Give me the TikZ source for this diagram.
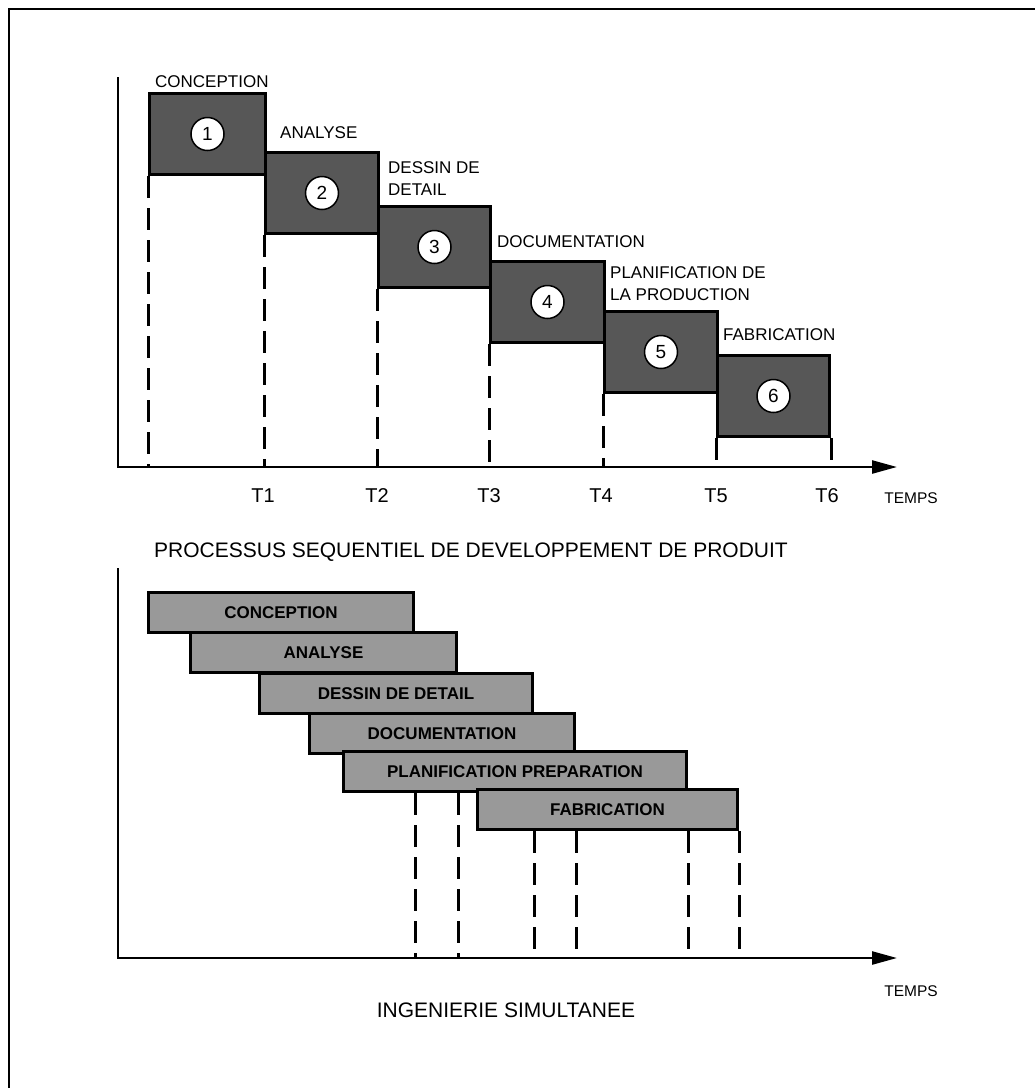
\documentclass[tikz,border=0pt]{standalone}
\usepackage{fontspec}
\setmainfont{Liberation Sans}
\usetikzlibrary{arrows.meta}
\begin{document}
\begin{tikzpicture}[x=1pt,y=-1pt,
  axisline/.style={line width=2.5pt,-{Triangle[length=25pt,width=13pt]}},
  seqbox/.style={draw,line width=3pt,fill=black!66,inner sep=0pt,anchor=north west,minimum height=81pt},
  numc/.style={circle,draw,line width=1.5pt,fill=white,minimum size=33pt,inner sep=0pt,font=\fontsize{19}{19}\selectfont},
  lbl/.style={anchor=north west,inner sep=0pt,align=left,font=\fontsize{17}{22}\selectfont},
  tlab/.style={anchor=base,inner sep=0pt,font=\fontsize{20}{20}\selectfont},
  temps/.style={anchor=base,inner sep=0pt,font=\fontsize{15.5}{15.5}\selectfont},
  caption/.style={anchor=base,inner sep=0pt,font=\fontsize{21}{21}\selectfont},
  guide/.style={line width=3pt,dash pattern=on 22pt off 10pt},
  bar/.style={draw,line width=3pt,fill=black!40,inner sep=0pt,anchor=north west,minimum height=40pt,font=\bfseries\fontsize{17}{17}\selectfont},
]
\useasboundingbox (0,0) rectangle (1035,1088);
% frame
\draw[line width=2pt] (9,1088) -- (9,9) -- (1035,9);

% ---------------- top chart ----------------
\coordinate (ytop1) at (118,77);
\coordinate (o1) at (118,467);
\coordinate (end1) at (897,467);
\draw[axisline] (ytop1) -- (o1) -- (end1);

\node[seqbox,minimum width=116pt] (s1) at (148,92) {};
\node[seqbox,minimum width=113pt] (s2) at (264,151) {};
\node[seqbox,minimum width=112pt] (s3) at (377,205) {};
\node[seqbox,minimum width=114pt] (s4) at (489,260) {};
\node[seqbox,minimum width=113pt] (s5) at (603,310) {};
\node[seqbox,minimum width=112pt] (s6) at (716,354) {};

\foreach \i in {1,...,6} {\node[numc] (c\i) at (s\i.center) {\i};}

\draw[guide] (s1.south west) -- (s1.south west |- o1);
\draw[guide] (s2.south west) -- (s2.south west |- o1);
\draw[guide] (s3.south west) -- (s3.south west |- o1);
\draw[guide] (s4.south west) -- (s4.south west |- o1);
\draw[guide] (s5.south west) -- (s5.south west |- o1);
\draw[guide] (s6.south west) -- (s6.south west |- o1);
\draw[guide] (s6.south east) -- (s6.south east |- o1);

\node[lbl] (l1) at (155,75) {CONCEPTION};
\node[lbl] (l2) at (280,126) {ANALYSE};
\node[lbl] (l3) at (388,161) {DESSIN DE\\DETAIL};
\node[lbl] (l4) at (497,235) {DOCUMENTATION};
\node[lbl] (l5) at (610,266) {PLANIFICATION DE\\LA PRODUCTION};
\node[lbl] (l6) at (723,328) {FABRICATION};

\node[tlab] (t1) at (263,502) {T1};
\node[tlab] (t2) at (377,502) {T2};
\node[tlab] (t3) at (489,502) {T3};
\node[tlab] (t4) at (601,502) {T4};
\node[tlab] (t5) at (716,502) {T5};
\node[tlab] (t6) at (827,502) {T6};
\node[temps] (tp1) at (911,503) {TEMPS};

\node[caption] (cap1) at (471,557) {PROCESSUS SEQUENTIEL DE DEVELOPPEMENT DE PRODUIT};

% ---------------- bottom chart ----------------
\coordinate (ytop2) at (118,568);
\coordinate (o2) at (118,958);
\coordinate (end2) at (897,958);
\draw[axisline] (ytop2) -- (o2) -- (end2);

\node[bar,minimum width=265pt] (p1) at (147,591) {CONCEPTION};
\node[bar,minimum width=266pt] (p2) at (189,631) {ANALYSE};
\node[bar,minimum width=273pt] (p3) at (258,672) {DESSIN DE DETAIL};
\node[bar,minimum width=265pt] (p4) at (308,712) {DOCUMENTATION};
\node[bar,minimum width=343pt] (p5) at (342,750) {PLANIFICATION PREPARATION};
\node[bar,minimum width=260pt] (p6) at (476,788) {FABRICATION};

\draw[guide] (p1.south east |- p5.south) -- (p1.south east |- o2);
\draw[guide] (p2.south east |- p5.south) -- (p2.south east |- o2);
\draw[guide] (p3.south east |- p6.south) -- (p3.south east |- o2);
\draw[guide] (p4.south east |- p6.south) -- (p4.south east |- o2);
\draw[guide] (p5.south east |- p6.south) -- (p5.south east |- o2);
\draw[guide] (p6.south east) -- (p6.south east |- o2);

\node[temps] (tp2) at (911,996) {TEMPS};
\node[caption] (cap2) at (506,1017) {INGENIERIE SIMULTANEE};
\end{tikzpicture}
\end{document}
